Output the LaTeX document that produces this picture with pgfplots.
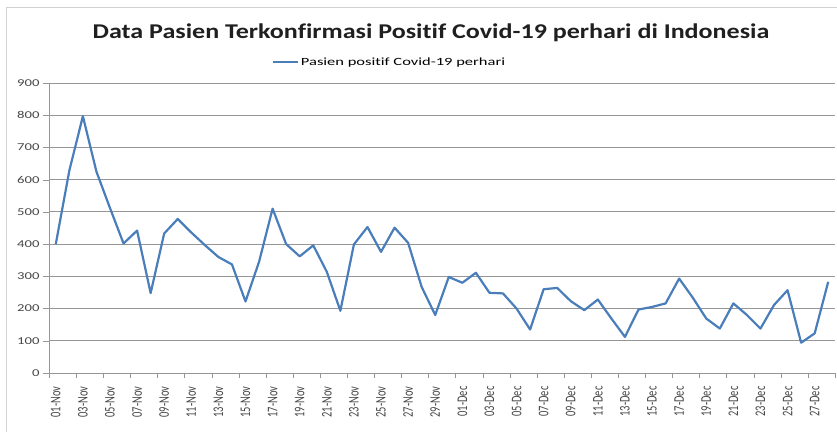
\documentclass[border=0pt]{standalone}
\usepackage{fontspec}
\setmainfont{Carlito}[Ligatures=NoCommon]
\usepackage{graphicx}
\usepackage{pgfplots}
\pgfplotsset{compat=1.18}
\definecolor{serblue}{RGB}{74,126,187}
\definecolor{gridgray}{RGB}{150,150,150}
\definecolor{labgray}{RGB}{70,70,70}
\newcommand\xl[1]{\scalebox{1}[1.4]{#1}}

% daily new cases, day 0 = 01-Nov, plotted at mid-day (day + 0.5)
\pgfplotstableread{
day val
0.5 400
1.5 628
2.5 797
3.5 625
4.5 512
5.5 402
6.5 442
7.5 248
8.5 433
9.5 478
10.5 436
11.5 397
12.5 360
13.5 337
14.5 222
15.5 345
16.5 510
17.5 400
18.5 362
19.5 396
20.5 314
21.5 193
22.5 399
23.5 453
24.5 376
25.5 451
26.5 404
27.5 267
28.5 180
29.5 298
30.5 280
31.5 311
32.5 249
33.5 247
34.5 200
35.5 135
36.5 260
37.5 264
38.5 223
39.5 195
40.5 228
41.5 169
42.5 112
43.5 197
44.5 205
45.5 216
46.5 293
47.5 234
48.5 169
49.5 138
50.5 216
51.5 180
52.5 138
53.5 211
54.5 257
55.5 94
56.5 123
57.5 283
}\cases

\begin{document}
\begin{tikzpicture}
\useasboundingbox (0,0) rectangle (837bp,432bp);
\clip (0,0) rectangle (837bp,432bp);
\draw[gray!35, line width=0.8bp] (6bp,-10bp) rectangle (860bp,425bp);
\node[font=\bfseries\fontsize{21bp}{24bp}\selectfont, text=black!88] at (431bp,399bp)
  {\scalebox{1.24}[1]{Data Pasien Terkonfirmasi Positif Covid-19 perhari di Indonesia}};
\begin{axis}[
  at={(49bp,59bp)}, anchor=south west,
  scale only axis, width=786bp, height=290bp,
  xmin=0, xmax=58, ymin=0, ymax=900,
  axis lines=left, axis line style={-, draw=gridgray},
  ytick={0,100,...,900},
  ymajorgrids, grid style={gridgray, line width=0.8bp},
  xtick={0.5,2.5,...,56.5},
  xticklabels={\xl{01-Nov},\xl{03-Nov},\xl{05-Nov},\xl{07-Nov},\xl{09-Nov},\xl{11-Nov},\xl{13-Nov},\xl{15-Nov},\xl{17-Nov},\xl{19-Nov},\xl{21-Nov},\xl{23-Nov},\xl{25-Nov},\xl{27-Nov},\xl{29-Nov},\xl{01-Dec},\xl{03-Dec},\xl{05-Dec},\xl{07-Dec},\xl{09-Dec},\xl{11-Dec},\xl{13-Dec},\xl{15-Dec},\xl{17-Dec},\xl{19-Dec},\xl{21-Dec},\xl{23-Dec},\xl{25-Dec},\xl{27-Dec}},
  minor xtick={0,2,...,58},
  major x tick style={draw=none},
  minor x tick style={draw=gridgray},
  y tick style={draw=gridgray},
  tick align=outside,
  minor tick length=5bp,
  major tick length=6bp,
  xticklabel style={rotate=90, anchor=east, font=\fontsize{10.5bp}{12bp}\selectfont, text=labgray},
  xticklabel shift=4bp,
  yticklabel style={font=\fontsize{10.5bp}{12bp}\selectfont, text=labgray},
  yticklabel={\scalebox{1.4}[1]{\pgfmathprintnumber{\tick}}},
  /pgf/number format/assume math mode=true,
  legend style={at={(0.284,1.072)}, anchor=west, draw=none, fill=none,
    inner sep=0pt, font=\fontsize{11bp}{13bp}\selectfont},
  legend image code/.code={\draw[#1, line width=1.5bp] (0bp,0bp) -- (25bp,0bp);},
  clip=false,
]
\addplot[serblue, line width=2.2bp, line join=round] table[x=day, y=val] {\cases};
\addlegendentry{\scalebox{1.5}[1]{Pasien positif Covid-19 perhari}}
\end{axis}
\end{tikzpicture}
\end{document}
